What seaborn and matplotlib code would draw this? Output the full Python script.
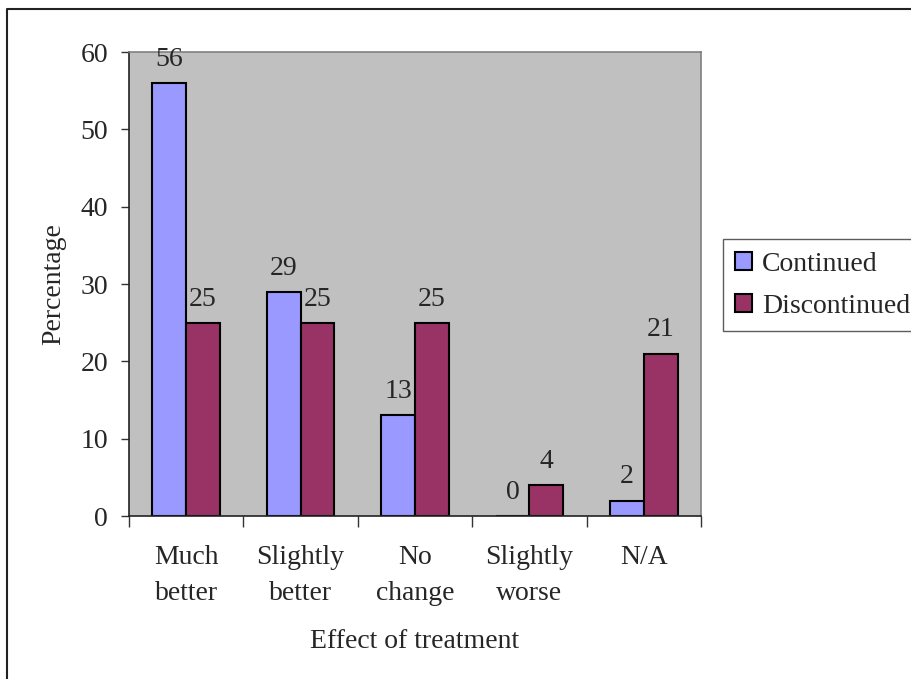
import seaborn as sns
import matplotlib.pyplot as plt
import matplotlib.lines as mlines
import pandas as pd

categories = ['Much\nbetter', 'Slightly\nbetter', 'No\nchange', 'Slightly\nworse', 'N/A']
groups = ['Continued', 'Discontinued']
continued = [56, 29, 13, 0, 2]
discontinued = [25, 25, 25, 4, 21]

df = pd.DataFrame({
    'Effect': categories * 2,
    'Group': [groups[0]] * len(categories) + [groups[1]] * len(categories),
    'Percentage': continued + discontinued,
})

sns.set_style('white')
plt.rcParams['font.family'] = ['Liberation Serif', 'DejaVu Serif']
fs = 20
plt.rcParams['font.size'] = fs

fig = plt.figure(figsize=(9.12, 6.79), dpi=100)
ax = fig.add_axes([129 / 912, 1 - 516 / 679, (701 - 129) / 912, (516 - 52) / 679])
ax.set_facecolor('#C0C0C0')

sns.barplot(data=df, x='Effect', y='Percentage', hue='Group', order=categories,
            hue_order=groups, palette=['#9999FF', '#993366'], width=0.59,
            edgecolor='black', linewidth=1.5, ax=ax, saturation=1, legend=True)

for cont in ax.containers:
    ax.bar_label(cont, labels=[f'{int(v)}' for v in cont.datavalues],
                 padding=8, fontsize=fs)

ax.set_ylim(0, 60)
ax.set_xlim(-0.5, len(categories) - 0.5)
ax.set_yticks(range(0, 61, 10))
ax.tick_params(axis='y', direction='out', length=6, width=1, color='#333333',
               labelsize=fs, pad=9, left=True)
ax.set_xticks([i - 0.5 for i in range(len(categories) + 1)])
ax.set_xticklabels([])
ax.set_xticks(range(len(categories)), minor=True)
ax.set_xticklabels(categories, minor=True, fontsize=fs, linespacing=1.55)
ax.tick_params(axis='x', which='major', direction='out', length=8, width=1,
               color='#333333', bottom=True)
ax.tick_params(axis='x', which='minor', length=0, pad=21)

for side in ['left', 'bottom']:
    ax.spines[side].set_color('#222222')
    ax.spines[side].set_linewidth(1.2)
for side in ['top', 'right']:
    ax.spines[side].set_color('#808080')
    ax.spines[side].set_linewidth(1.2)

ax.set_xlabel('Effect of treatment', fontsize=fs, labelpad=17)
ax.set_ylabel('Percentage', fontsize=fs, labelpad=10)

ax.legend(loc='upper left', bbox_to_anchor=(723 / 912, 1 - 239 / 679),
          bbox_transform=fig.transFigure, frameon=True, fancybox=False,
          edgecolor='#333333', fontsize=fs, handlelength=0.6, handleheight=0.6,
          handletextpad=0.35, borderpad=0.45, labelspacing=0.62, borderaxespad=0)
ax.get_legend().get_frame().set_linewidth(1)

# outer chart frame (only left and top edges visible)
fig.add_artist(mlines.Line2D([7 / 912, 7 / 912, 1], [0, 1 - 9 / 679, 1 - 9 / 679],
                             transform=fig.transFigure, color='#222222', linewidth=1.5))

fig.savefig('out.png', dpi=100)
